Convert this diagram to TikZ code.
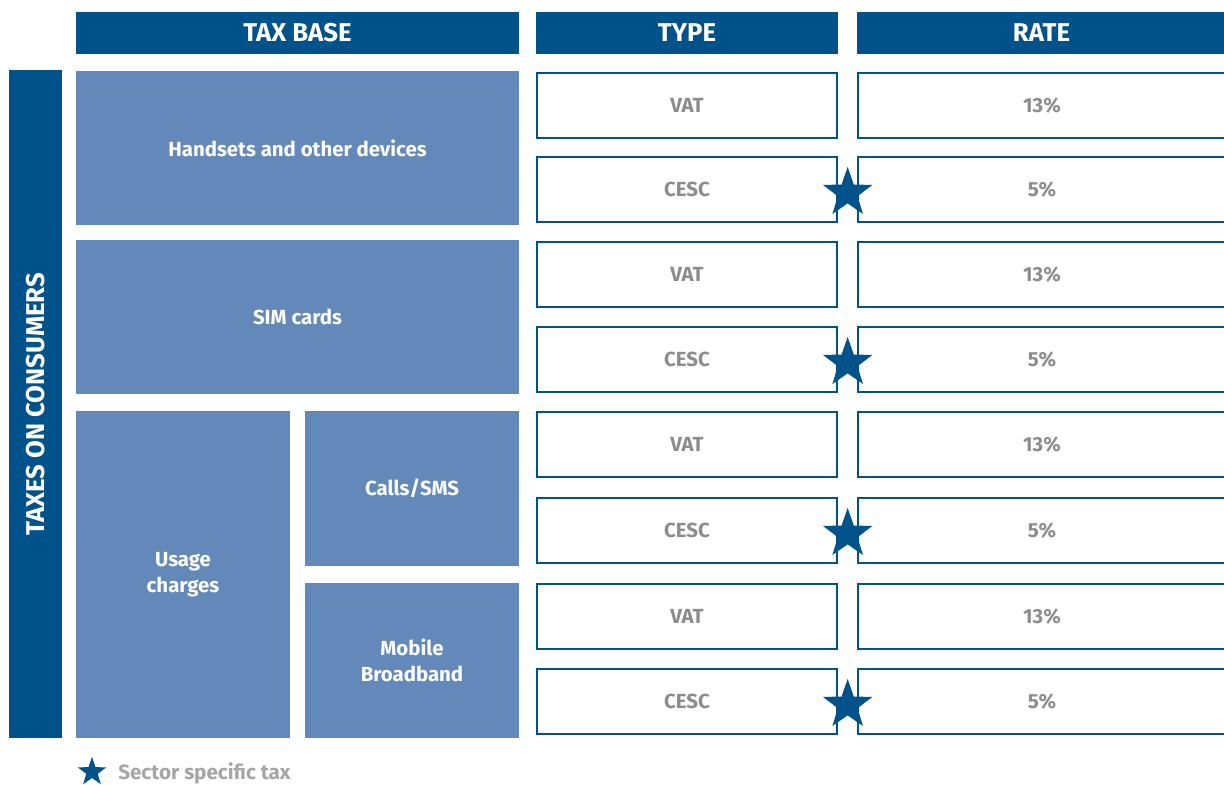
\documentclass[tikz,border=0pt]{standalone}
\usepackage{fontspec}
\setmainfont{Fira Sans}
\usetikzlibrary{positioning,shapes.geometric}

\definecolor{darkblue}{RGB}{0,82,138}
\definecolor{lightblue}{RGB}{98,137,185}
\definecolor{textgrey}{RGB}{140,140,140}
\definecolor{notegrey}{RGB}{166,166,166}

\tikzstyle{head} = [rectangle, fill=darkblue, text=white, font=\bfseries\fontsize{19.3}{23}\selectfont, minimum height=31.5pt, inner sep=0pt, outer sep=0pt, anchor=north west]
\tikzstyle{base} = [rectangle, fill=lightblue, text=white, font=\bfseries\fontsize{15.3}{19.5}\selectfont, align=center, inner sep=0pt, outer sep=0pt, anchor=north west]
\tikzstyle{typebox} = [rectangle, draw=darkblue, line width=1.6pt, fill=white, text=textgrey, font=\bfseries\fontsize{15.3}{18}\selectfont, minimum width=225pt, minimum height=48.75pt, inner sep=0pt, outer sep=0pt, anchor=north west]
\tikzstyle{ratebox} = [typebox, minimum width=276pt]
\tikzstyle{sstar} = [star, star points=5, star point ratio=2.5, fill=darkblue, inner sep=0pt, minimum size=39pt]

\begin{document}
\begin{tikzpicture}[x=0.75pt, y=-0.75pt]
  \useasboundingbox (0,0) rectangle (1224,785);

  % headers
  \node (taxbase) [head, minimum width=332.25pt] at (76,12) {TAX BASE};
  \node (type) [head, minimum width=226.5pt] at (536,12) {TYPE};
  \node (rate) [head, minimum width=276.75pt] at (857,12) {RATE};

  \node (consumers) [head, minimum width=39.75pt, minimum height=501pt] at (9,70) {};
  \node [rotate=90, text=white, font=\bfseries\fontsize{19.3}{23}\selectfont] at (consumers.center) {TAXES ON CONSUMERS};

  % tax base
  \node (handsets) [base, minimum width=332.25pt, minimum height=115.5pt] at (76,71) {Handsets and other devices};
  \node (sim) [base, minimum width=332.25pt, minimum height=115.5pt] at (76,240) {SIM cards};
  \node (usage) [base, minimum width=160.5pt, minimum height=245.25pt] at (76,411) {Usage\\charges};
  \node (calls) [base, minimum width=160.5pt, minimum height=116.25pt] at (305,411) {Calls/SMS};
  \node (mobile) [base, minimum width=160.5pt, minimum height=116.25pt] at (305,583) {Mobile\\Broadband};

  % type
  \node (vat1) [typebox] at (537,73) {VAT};
  \node (cesc1) [typebox] at (537,157) {CESC};
  \node (vat2) [typebox] at (537,242) {VAT};
  \node (cesc2) [typebox] at (537,327) {CESC};
  \node (vat3) [typebox] at (537,412) {VAT};
  \node (cesc3) [typebox] at (537,498) {CESC};
  \node (vat4) [typebox] at (537,584) {VAT};
  \node (cesc4) [typebox] at (537,669) {CESC};

  % rate
  \node (rate1) [ratebox, right=15.75pt of vat1] {13\%};
  \node (rate2) [ratebox, right=15.75pt of cesc1] {5\%};
  \node (rate3) [ratebox, right=15.75pt of vat2] {13\%};
  \node (rate4) [ratebox, right=15.75pt of cesc2] {5\%};
  \node (rate5) [ratebox, right=15.75pt of vat3] {13\%};
  \node (rate6) [ratebox, right=15.75pt of cesc3] {5\%};
  \node (rate7) [ratebox, right=15.75pt of vat4] {13\%};
  \node (rate8) [ratebox, right=15.75pt of cesc4] {5\%};

  % sector specific stars
  \node (star1) [sstar] at ([xshift=8pt, yshift=-2.6pt]cesc1.east) {};
  \node (star2) [sstar] at ([xshift=8pt, yshift=-2.6pt]cesc2.east) {};
  \node (star3) [sstar] at ([xshift=8pt, yshift=-2.6pt]cesc3.east) {};
  \node (star4) [sstar] at ([xshift=8pt, yshift=-2.6pt]cesc4.east) {};

  % legend
  \node (keystar) [sstar, minimum size=22.5pt] at (92,772) {};
  \node (keytext) [anchor=west, inner sep=0pt, text=notegrey, font=\bfseries\fontsize{15.5}{18}\selectfont] at (118,773) {Sector specific tax};
\end{tikzpicture}
\end{document}
